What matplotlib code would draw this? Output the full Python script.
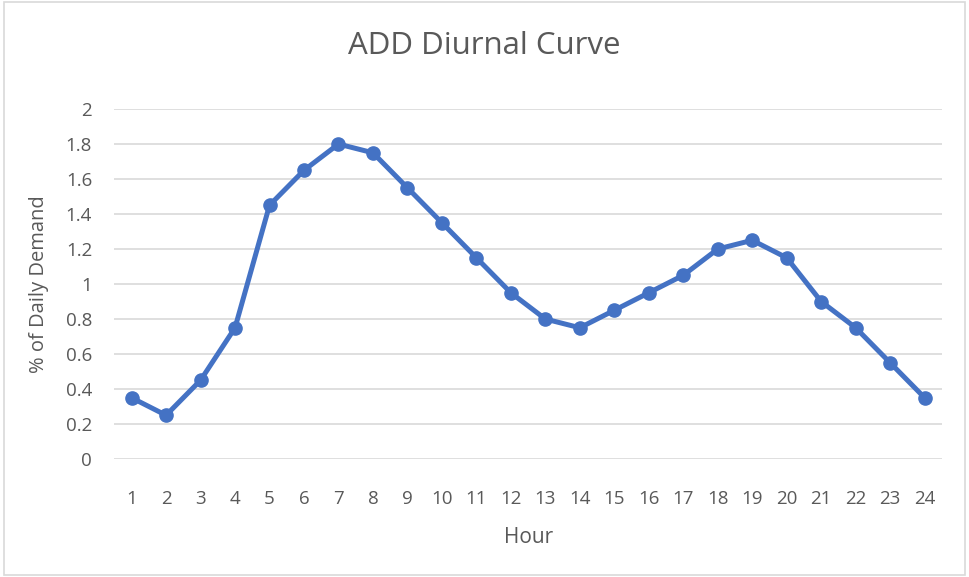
import matplotlib.pyplot as plt
from matplotlib.patches import Rectangle

# --- dados ---
hours = list(range(1, 25))
demand = [0.35, 0.25, 0.45, 0.75, 1.45, 1.65, 1.8, 1.75, 1.55, 1.35, 1.15, 0.95,
          0.8, 0.75, 0.85, 0.95, 1.05, 1.2, 1.25, 1.15, 0.9, 0.75, 0.55, 0.35]
y_ticks = [0, 0.2, 0.4, 0.6, 0.8, 1, 1.2, 1.4, 1.6, 1.8, 2]
y_labels = ['0', '0.2', '0.4', '0.6', '0.8', '1', '1.2', '1.4', '1.6', '1.8', '2']

plt.rcParams['font.family'] = ['Open Sans', 'DejaVu Sans']
txt = '#595959'

fig = plt.figure(figsize=(9.69, 5.77), dpi=100)
ax = fig.add_axes([0.118, 0.2045, 0.854, 0.6065])

ax.plot(hours, demand, color='#4472C4', linewidth=3.6, marker='o',
        markersize=9.5, zorder=3)

ax.set_xlim(0.5, 24.5)
ax.set_ylim(0, 2)
ax.set_xticks(hours)
ax.set_xticklabels([str(h) for h in hours])
ax.set_yticks(y_ticks)
ax.set_yticklabels(y_labels)
ax.grid(axis='y', color='#d9d9d9', linewidth=1.2)
ax.set_axisbelow(True)
for s in ax.spines.values():
    s.set_visible(False)
ax.tick_params(length=0, labelsize=13.5, colors=txt)
ax.tick_params(axis='x', pad=22)
ax.tick_params(axis='y', pad=16)

ax.set_xlabel('Hour', fontsize=15, color=txt, labelpad=14)
ax.set_ylabel('% of Daily Demand', fontsize=14.5, color=txt, labelpad=12)
fig.text(0.5, 0.92, 'ADD Diurnal Curve', ha='center', va='center',
         fontsize=22.5, color=txt)

# borda clara em volta
fig.patches.append(Rectangle((0.004, 0.004), 0.992, 0.992, transform=fig.transFigure,
                             fill=False, edgecolor='#d9d9d9', linewidth=1.2))

fig.savefig('out.png', dpi=100)
